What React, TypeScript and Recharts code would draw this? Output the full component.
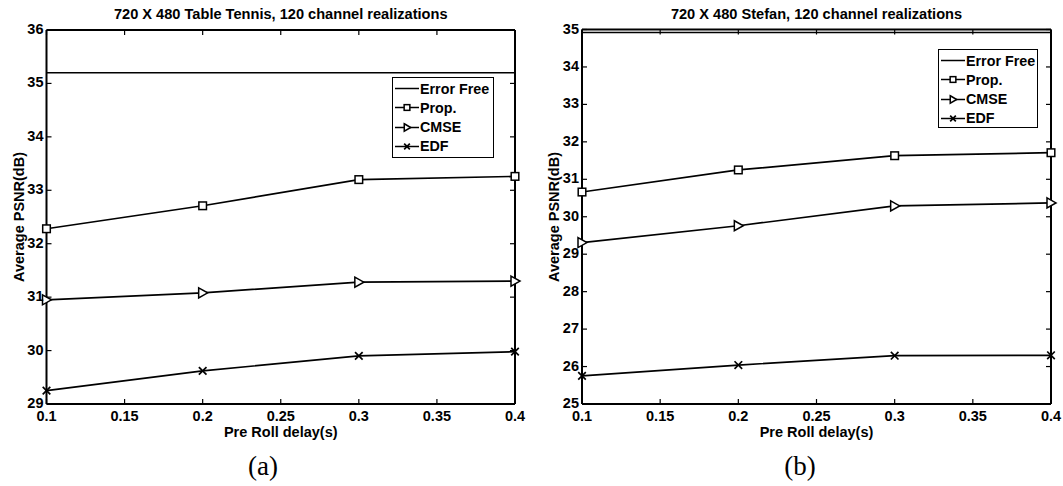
import React from 'react';
import { Legend, Line, LineChart, ReferenceLine, XAxis, YAxis } from 'recharts';

// Pre roll delay (s) on the x axis
const delays = [0.1, 0.2, 0.3, 0.4];
const xTicks = [0.1, 0.15, 0.2, 0.25, 0.3, 0.35, 0.4];

// (a) Table Tennis
const tennisErrorFree = [35.2, 35.2, 35.2, 35.2];
const tennisProp = [32.28, 32.71, 33.2, 33.26];
const tennisCmse = [30.95, 31.08, 31.28, 31.3];
const tennisEdf = [29.25, 29.62, 29.9, 29.98];
const tennisTicks = [29, 30, 31, 32, 33, 34, 35, 36];

// (b) Stefan
const stefanErrorFree = [34.92, 34.92, 34.92, 34.92];
const stefanProp = [30.66, 31.25, 31.63, 31.71];
const stefanCmse = [29.31, 29.76, 30.29, 30.37];
const stefanEdf = [25.75, 26.04, 26.29, 26.3];
const stefanTicks = [25, 26, 27, 28, 29, 30, 31, 32, 33, 34, 35];

// legend order, as in the figure
const seriesKeys = ['errorFree', 'prop', 'cmse', 'edf'];
const seriesNames = ['Error Free', 'Prop.', 'CMSE', 'EDF'];

const SANS = '"Liberation Sans", Arial, sans-serif';
const W = 530;
const H = 445;
const LINE_W = 1.7;

type Shape = 'none' | 'square' | 'triangle' | 'cross';

const markerFor: Record<string, Shape> = {
    errorFree: 'none',
    prop: 'square',
    cmse: 'triangle',
    edf: 'cross',
};

function Marker({ shape, cx, cy, s = 1 }: { shape: Shape; cx: number; cy: number; s?: number }) {
    if (shape === 'square') {
        const h = 3.8 * s;
        return <rect x={cx - h} y={cy - h} width={2 * h} height={2 * h} fill="#fff" stroke="#000" strokeWidth={1.5} />;
    }
    if (shape === 'triangle') {
        const a = 5 * s;
        return (
            <polygon
                points={`${cx - a + 1},${cy - a} ${cx + a},${cy} ${cx - a + 1},${cy + a}`}
                fill="#fff"
                stroke="#000"
                strokeWidth={1.5}
            />
        );
    }
    if (shape === 'cross') {
        const h = 3.8 * s;
        return (
            <g stroke="#000" strokeWidth={1.7}>
                <line x1={cx - h} y1={cy - h} x2={cx + h} y2={cy + h} />
                <line x1={cx - h} y1={cy + h} x2={cx + h} y2={cy - h} />
            </g>
        );
    }
    return null;
}

const buildRows = (ef: number[], prop: number[], cmse: number[], edf: number[]) =>
    delays.map((d, i) => ({ delay: d, errorFree: ef[i], prop: prop[i], cmse: cmse[i], edf: edf[i] }));

type PanelProps = {
    left: number;
    title: string;
    caption: string;
    captionX: number;
    rows: any[];
    yDomain: [number, number];
    yTicks: number[];
    plot: { left: number; right: number; top: number; bottom: number };
    legend: { left: number; top: number; width: number; height: number };
};

function Panel({ left, title, caption, captionX, rows, yDomain, yTicks, plot, legend }: PanelProps) {
    const plotW = plot.right - plot.left;
    const plotH = plot.bottom - plot.top;
    const cx = (plot.left + plot.right) / 2 - left;
    const cy = (plot.top + plot.bottom) / 2;

    const XTick = ({ x, y, payload }: any) => (
        <g>
            <line x1={x} y1={y} x2={x} y2={y - 5} stroke="#000" strokeWidth={1.2} />
            <line x1={x} y1={y - plotH} x2={x} y2={y - plotH + 5} stroke="#000" strokeWidth={1.2} />
            <text x={x} y={y + 17} textAnchor="middle" fontFamily={SANS} fontWeight="bold" fontSize={14.5} fill="#000">
                {payload.value}
            </text>
        </g>
    );

    const YTick = ({ x, y, payload }: any) => (
        <g>
            <line x1={x} y1={y} x2={x + 5} y2={y} stroke="#000" strokeWidth={1.2} />
            <line x1={x + plotW} y1={y} x2={x + plotW - 5} y2={y} stroke="#000" strokeWidth={1.2} />
            <text x={x - 3} y={y + 4} textAnchor="end" fontFamily={SANS} fontWeight="bold" fontSize={14.5} fill="#000">
                {payload.value}
            </text>
        </g>
    );

    const dotFor = (key: string) => (p: any) => (
        <Marker key={`${key}-${p.index}`} shape={markerFor[key]} cx={p.cx} cy={p.cy} />
    );

    const renderLegend = () => (
        <div
            style={{
                width: legend.width,
                height: legend.height,
                boxSizing: 'border-box',
                border: '1.8px solid #000',
                background: '#fff',
                paddingTop: 1,
                whiteSpace: 'nowrap',
            }}
        >
            {seriesKeys.map((key, i) => (
                <div key={key} style={{ display: 'flex', alignItems: 'center', height: 19.3 }}>
                    <svg width={27} height={19} style={{ flex: 'none' }}>
                        <line x1={2} y1={9.5} x2={26} y2={9.5} stroke="#000" strokeWidth={1.5} />
                        <Marker shape={markerFor[key]} cx={14} cy={9.5} s={0.75} />
                    </svg>
                    <span style={{ fontFamily: SANS, fontWeight: 'bold', fontSize: 14.3, lineHeight: 1, whiteSpace: 'nowrap' }}>
                        {seriesNames[i]}
                    </span>
                </div>
            ))}
        </div>
    );

    const text = (style: React.CSSProperties, content: string) => (
        <div
            style={{
                position: 'absolute',
                whiteSpace: 'nowrap',
                lineHeight: 1,
                fontFamily: SANS,
                fontWeight: 'bold',
                color: '#000',
                ...style,
            }}
        >
            {content}
        </div>
    );

    return (
        <div style={{ position: 'absolute', left, top: 0, width: W, height: 486 }}>
            <LineChart
                width={W}
                height={H}
                data={rows}
                margin={{ top: plot.top, left: 0, right: left + W - plot.right, bottom: 0 }}
            >
                <XAxis
                    dataKey="delay"
                    type="number"
                    domain={[0.1, 0.4]}
                    ticks={xTicks}
                    height={H - plot.bottom}
                    tickSize={0}
                    tickMargin={0}
                    tickLine={false}
                    axisLine={{ stroke: '#000', strokeWidth: 2 }}
                    tick={<XTick />}
                    interval={0}
                />
                <YAxis
                    type="number"
                    domain={yDomain}
                    ticks={yTicks}
                    width={plot.left - left}
                    tickSize={0}
                    tickMargin={0}
                    tickLine={false}
                    axisLine={{ stroke: '#000', strokeWidth: 2 }}
                    tick={<YTick />}
                    interval={0}
                />
                <ReferenceLine y={yDomain[1]} stroke="#000" strokeWidth={2} />
                <ReferenceLine x={0.4} stroke="#000" strokeWidth={2} />
                <Legend
                    layout="vertical"
                    align="center"
                    verticalAlign="middle"
                    content={renderLegend}
                    wrapperStyle={{ left: legend.left - left, top: legend.top, width: legend.width, height: legend.height }}
                />
                <Line dataKey="errorFree" name="Error Free" stroke="#000" strokeWidth={LINE_W} dot={false} activeDot={false} isAnimationActive={false} />
                <Line dataKey="prop" name="Prop." stroke="#000" strokeWidth={LINE_W} dot={dotFor('prop')} activeDot={false} isAnimationActive={false} />
                <Line dataKey="cmse" name="CMSE" stroke="#000" strokeWidth={LINE_W} dot={dotFor('cmse')} activeDot={false} isAnimationActive={false} />
                <Line dataKey="edf" name="EDF" stroke="#000" strokeWidth={LINE_W} dot={dotFor('edf')} activeDot={false} isAnimationActive={false} />
            </LineChart>
            {text({ left: cx, top: 7, fontSize: 14.6, transform: 'translateX(-50%)' }, title)}
            {text({ left: cx, top: 425, fontSize: 14.5, transform: 'translateX(-50%)' }, 'Pre Roll delay(s)')}
            {text(
                { left: plot.left - left - 28, top: cy, fontSize: 14.5, transform: 'translate(-50%, -50%) rotate(-90deg)' },
                'Average PSNR(dB)'
            )}
            <div
                style={{
                    position: 'absolute',
                    left: captionX - left,
                    top: 466,
                    transform: 'translate(-50%, -50%)',
                    fontFamily: '"Liberation Serif", "Times New Roman", serif',
                    fontSize: 27,
                    lineHeight: 1,
                    whiteSpace: 'nowrap',
                }}
            >
                {caption}
            </div>
        </div>
    );
}

export default function App() {
    return (
        <div style={{ position: 'absolute', left: 0, top: 0, width: 1063, height: 486, background: '#fff', overflow: 'hidden' }}>
            <Panel
                left={0}
                title="720 X 480 Table Tennis, 120 channel realizations"
                caption="(a)"
                captionX={263}
                rows={buildRows(tennisErrorFree, tennisProp, tennisCmse, tennisEdf)}
                yDomain={[29, 36]}
                yTicks={tennisTicks}
                plot={{ left: 46.5, right: 515, top: 30, bottom: 404 }}
                legend={{ left: 392, top: 77, width: 102, height: 81 }}
            />
            <Panel
                left={533}
                title="720 X 480 Stefan, 120 channel realizations"
                caption="(b)"
                captionX={800}
                rows={buildRows(stefanErrorFree, stefanProp, stefanCmse, stefanEdf)}
                yDomain={[25, 35]}
                yTicks={stefanTicks}
                plot={{ left: 582, right: 1051, top: 29.5, bottom: 404 }}
                legend={{ left: 938, top: 49, width: 100, height: 79 }}
            />
        </div>
    );
}
